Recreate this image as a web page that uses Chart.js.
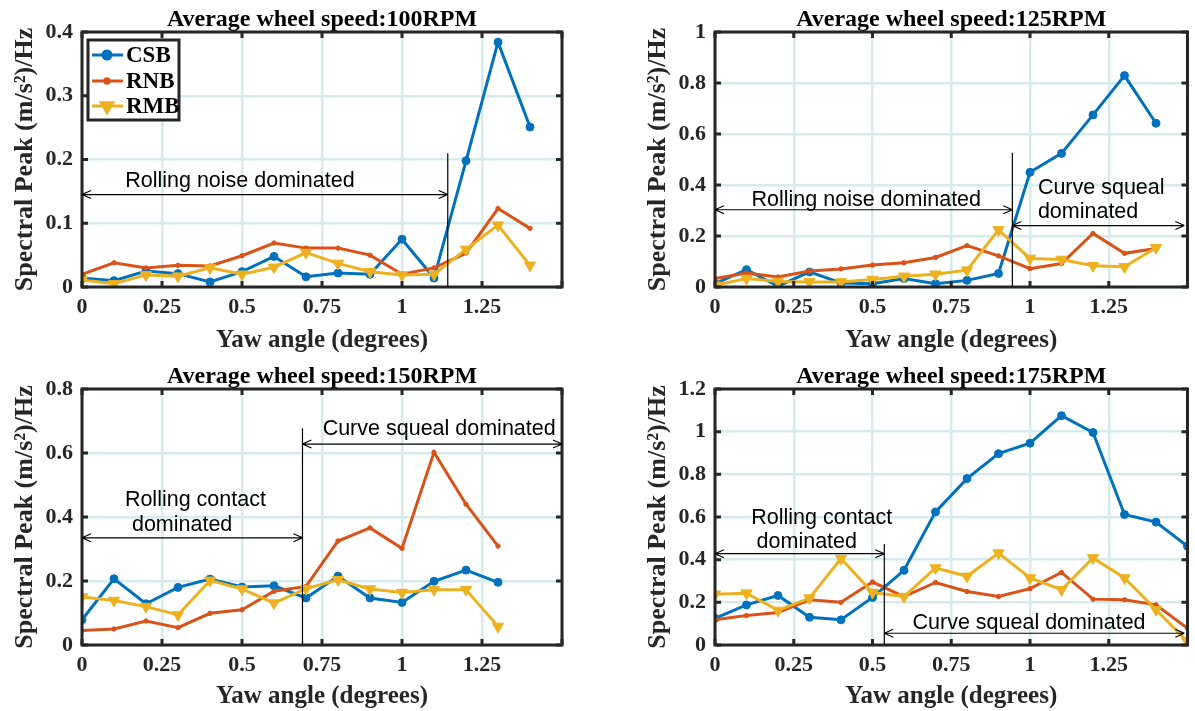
<!DOCTYPE html>
<html>
<head>
<meta charset="utf-8">
<script src="https://cdn.jsdelivr.net/npm/chart.js@4.4.0/dist/chart.umd.min.js"></script>
<style>
  body { margin: 0; background: #fff; }
  #wrap { position: relative; width: 1195px; height: 711px; overflow: hidden; background: #fff; }
  canvas { position: absolute; }
</style>
</head>
<body>
<div id="wrap">
  <canvas id="p100" width="597" height="355" style="left:0;top:0"></canvas>
  <canvas id="p125" width="562" height="355" style="left:633px;top:0"></canvas>
  <canvas id="p150" width="597" height="354" style="left:0;top:357px"></canvas>
  <canvas id="p175" width="562" height="354" style="left:633px;top:357px"></canvas>
</div>
<script>
// yaw angles (degrees)
const yaw14 = [0, 0.1, 0.2, 0.3, 0.4, 0.5, 0.6, 0.7, 0.8, 0.9, 1.0, 1.1, 1.2, 1.3];
const yaw15 = [0, 0.1, 0.2, 0.3, 0.4, 0.5, 0.6, 0.7, 0.8, 0.9, 1.0, 1.1, 1.2, 1.3, 1.4];
const yaw16 = [0, 0.1, 0.2, 0.3, 0.4, 0.5, 0.6, 0.7, 0.8, 0.9, 1.0, 1.1, 1.2, 1.3, 1.4, 1.5];

// 100 RPM
const csb100 = [0.014, 0.010, 0.025, 0.021, 0.008, 0.024, 0.048, 0.016, 0.022, 0.020, 0.075, 0.014, 0.198, 0.384, 0.251];
const rnb100 = [0.020, 0.038, 0.030, 0.034, 0.033, 0.049, 0.069, 0.061, 0.061, 0.050, 0.020, 0.030, 0.053, 0.123, 0.092];
const rmb100 = [0.011, 0.005, 0.019, 0.017, 0.030, 0.020, 0.031, 0.054, 0.037, 0.024, 0.019, 0.020, 0.059, 0.097, 0.034];

// 125 RPM
const csb125 = [0.013, 0.068, 0.003, 0.059, 0.016, 0.013, 0.033, 0.013, 0.026, 0.053, 0.450, 0.524, 0.675, 0.829, 0.642];
const rnb125 = [0.033, 0.055, 0.039, 0.063, 0.071, 0.086, 0.095, 0.116, 0.162, 0.122, 0.072, 0.092, 0.210, 0.132, 0.151];
const rmb125 = [0.007, 0.033, 0.022, 0.020, 0.020, 0.029, 0.042, 0.050, 0.066, 0.224, 0.112, 0.108, 0.083, 0.079, 0.154];

// 150 RPM
const csb150 = [0.079, 0.207, 0.129, 0.180, 0.206, 0.181, 0.185, 0.147, 0.215, 0.147, 0.133, 0.199, 0.234, 0.196];
const rnb150 = [0.045, 0.050, 0.075, 0.054, 0.099, 0.110, 0.168, 0.183, 0.325, 0.366, 0.302, 0.602, 0.440, 0.309];
const rmb150 = [0.150, 0.139, 0.120, 0.094, 0.202, 0.175, 0.131, 0.176, 0.204, 0.175, 0.164, 0.173, 0.173, 0.058];

// 175 RPM
const csb175 = [0.125, 0.188, 0.232, 0.130, 0.118, 0.223, 0.350, 0.624, 0.780, 0.897, 0.946, 1.075, 0.996, 0.612, 0.576, 0.463];
const rnb175 = [0.118, 0.138, 0.152, 0.212, 0.200, 0.295, 0.227, 0.293, 0.251, 0.227, 0.264, 0.340, 0.215, 0.212, 0.188, 0.078];
const rmb175 = [0.238, 0.243, 0.162, 0.220, 0.405, 0.246, 0.227, 0.361, 0.322, 0.431, 0.314, 0.259, 0.408, 0.314, 0.165, 0.016];

const seriesNames = ['CSB', 'RNB', 'RMB'];
const seriesColors = ['#0072BD', '#D95319', '#EDB120'];

const SERIF = 'Liberation Serif, Times New Roman, serif';
const SANS = 'Liberation Sans, Arial, sans-serif';
const INK = '#262626';

// thick box + inward ticks like a matlab axes
const framePlugin = {
  id: 'frame',
  afterDatasetsDraw(chart) {
    const { ctx, chartArea: a, scales: { x, y } } = chart;
    ctx.save();
    ctx.strokeStyle = INK;
    ctx.lineWidth = 3;
    const len = 6;
    ctx.beginPath();
    x.ticks.forEach((t, i) => {
      const px = x.getPixelForTick(i);
      ctx.moveTo(px, a.bottom); ctx.lineTo(px, a.bottom - len);
      ctx.moveTo(px, a.top); ctx.lineTo(px, a.top + len);
    });
    y.ticks.forEach((t, i) => {
      const py = y.getPixelForTick(i);
      ctx.moveTo(a.left, py); ctx.lineTo(a.left + len, py);
      ctx.moveTo(a.right, py); ctx.lineTo(a.right - len, py);
    });
    ctx.stroke();
    ctx.strokeRect(a.left, a.top, a.right - a.left, a.bottom - a.top);
    ctx.restore();
  }
};

function arrowHead(ctx, px, py, dir) {
  ctx.moveTo(px, py);
  ctx.lineTo(px - dir * 9, py - 4);
  ctx.moveTo(px, py);
  ctx.lineTo(px - dir * 9, py + 4);
}

// region marks: vertical divider, double arrows and labels (data coords)
const notesPlugin = {
  id: 'notes',
  afterDatasetsDraw(chart, args, opts) {
    const { ctx, scales: { x, y } } = chart;
    ctx.save();
    ctx.strokeStyle = '#000';
    ctx.fillStyle = '#000';
    ctx.lineWidth = 1.2;
    (opts.items || []).forEach(it => {
      if (it.type === 'vline') {
        ctx.beginPath();
        ctx.moveTo(x.getPixelForValue(it.x), y.getPixelForValue(it.y0));
        ctx.lineTo(x.getPixelForValue(it.x), y.getPixelForValue(it.y1));
        ctx.stroke();
      } else if (it.type === 'arrow') {
        const x0 = x.getPixelForValue(it.x0), x1 = x.getPixelForValue(it.x1);
        const py = y.getPixelForValue(it.y);
        ctx.beginPath();
        ctx.moveTo(x0, py); ctx.lineTo(x1, py);
        arrowHead(ctx, x1, py, 1);
        arrowHead(ctx, x0, py, -1);
        ctx.stroke();
      } else if (it.type === 'text') {
        ctx.font = '21.5px ' + SANS;
        ctx.textAlign = 'left';
        ctx.textBaseline = 'middle';
        ctx.fillText(it.text, x.getPixelForValue(it.x), y.getPixelForValue(it.y));
      }
    });
    ctx.restore();
  }
};

// boxed legend inside the axes (top-left)
const boxLegendPlugin = {
  id: 'boxLegend',
  afterDraw(chart, args, opts) {
    if (!opts.show) return;
    const { ctx, chartArea: a } = chart;
    const bx = a.left + 6, by = a.top + 8, bw = 91, bh = 80;
    ctx.save();
    ctx.fillStyle = '#fff';
    ctx.fillRect(bx, by, bw, bh);
    ctx.strokeStyle = INK;
    ctx.lineWidth = 3;
    ctx.strokeRect(bx, by, bw, bh);
    const rows = [15, 41, 66];
    chart.data.datasets.forEach((ds, i) => {
      const ly = by + rows[i];
      ctx.strokeStyle = ds.borderColor;
      ctx.lineWidth = 3;
      ctx.beginPath();
      ctx.moveTo(bx + 4, ly); ctx.lineTo(bx + 35, ly);
      ctx.stroke();
      ctx.fillStyle = ds.borderColor;
      Chart.helpers.drawPoint(ctx, {
        pointStyle: ds.pointStyle, rotation: ds.rotation || 0,
        radius: ds.pointRadius, borderWidth: 1
      }, bx + 19, ly);
      ctx.fill();
      ctx.fillStyle = '#000';
      ctx.font = 'bold 23px ' + SERIF;
      ctx.textAlign = 'left';
      ctx.textBaseline = 'middle';
      ctx.fillText(ds.label, bx + 38, ly + 1);
    });
    ctx.restore();
  }
};

Chart.register(framePlugin, notesPlugin, boxLegendPlugin);

function pts(xs, ys) {
  return ys.map((v, i) => ({ x: xs[i], y: v }));
}

function fmt(v) {
  return String(+Number(v).toFixed(2));
}

function makePanel(id, cfg) {
  const ds = [cfg.csb, cfg.rnb, cfg.rmb].map((vals, i) => ({
    label: seriesNames[i],
    data: pts(cfg.yaw, vals),
    borderColor: seriesColors[i],
    backgroundColor: seriesColors[i],
    pointBackgroundColor: seriesColors[i],
    pointBorderColor: seriesColors[i],
    borderWidth: 3,
    tension: 0,
    pointStyle: i === 2 ? 'triangle' : 'circle',
    rotation: i === 2 ? 180 : 0,
    pointRadius: [4, 2.2, 6.5][i],
    pointBorderWidth: 1,
    order: 2 - i
  }));

  new Chart(document.getElementById(id), {
    type: 'line',
    data: { datasets: ds },
    options: {
      responsive: false,
      animation: false,
      events: [],
      layout: { padding: { left: 0, right: cfg.padRight, top: 0, bottom: 0 } },
      scales: {
        x: {
          type: 'linear',
          min: 0, max: 1.5,
          afterFit(s) { s.height = cfg.xAxisH; },
          border: { display: false },
          grid: { color: '#d6ebeb', lineWidth: 2.5, drawTicks: false },
          ticks: {
            stepSize: 0.25,
            padding: 7,
            maxRotation: 0,
            color: INK,
            font: { family: SERIF, size: 22, weight: 'bold' },
            callback: v => (v > 1.4 ? '' : fmt(v))
          },
          title: {
            display: true,
            text: 'Yaw angle (degrees)',
            color: INK,
            font: { family: SERIF, size: 25, weight: 'bold', lineHeight: 1 },
            padding: { top: 0, bottom: 2 }
          }
        },
        y: {
          min: 0, max: cfg.yMax,
          afterFit(s) { s.width = 82; },
          border: { display: false },
          grid: { color: '#d6ebeb', lineWidth: 2.5, drawTicks: false },
          ticks: {
            stepSize: cfg.yStep,
            padding: 9,
            color: INK,
            font: { family: SERIF, size: 22, weight: 'bold' },
            callback: v => fmt(v)
          },
          title: {
            display: true,
            text: 'Spectral Peak (m/s²)/Hz',
            color: INK,
            font: { family: SERIF, size: 26, weight: 'bold', lineHeight: 1 },
            padding: { top: 12, bottom: 0 }
          }
        }
      },
      plugins: {
        legend: { display: false },
        tooltip: { enabled: false },
        title: {
          display: true,
          fullSize: false,
          text: cfg.title,
          color: '#000',
          font: { family: SERIF, size: 24, weight: 'bold', lineHeight: 1 },
          padding: { top: 8, bottom: 0 }
        },
        notes: { items: cfg.notes },
        boxLegend: { show: !!cfg.legend }
      }
    }
  });
}

makePanel('p100', {
  title: 'Average wheel speed:100RPM',
  yaw: yaw15, csb: csb100, rnb: rnb100, rmb: rmb100,
  yMax: 0.4, yStep: 0.1, padRight: 35, xAxisH: 68, legend: true,
  notes: [
    { type: 'vline', x: 1.143, y0: 0, y1: 0.21 },
    { type: 'arrow', x0: 0, x1: 1.143, y: 0.145 },
    { type: 'text', text: 'Rolling noise dominated', x: 0.135, y: 0.166 }
  ]
});

makePanel('p125', {
  title: 'Average wheel speed:125RPM',
  yaw: yaw15, csb: csb125, rnb: rnb125, rmb: rmb125,
  yMax: 1, yStep: 0.2, padRight: 0, xAxisH: 68,
  notes: [
    { type: 'vline', x: 0.944, y0: 0, y1: 0.526 },
    { type: 'arrow', x0: 0, x1: 0.944, y: 0.303 },
    { type: 'arrow', x0: 0.944, x1: 1.49, y: 0.241 },
    { type: 'text', text: 'Rolling noise dominated', x: 0.116, y: 0.342 },
    { type: 'text', text: 'Curve squeal', x: 1.025, y: 0.388 },
    { type: 'text', text: 'dominated', x: 1.025, y: 0.292 }
  ]
});

makePanel('p150', {
  title: 'Average wheel speed:150RPM',
  yaw: yaw14, csb: csb150, rnb: rnb150, rmb: rmb150,
  yMax: 0.8, yStep: 0.2, padRight: 35, xAxisH: 66,
  notes: [
    { type: 'vline', x: 0.689, y0: 0, y1: 0.677 },
    { type: 'arrow', x0: 0, x1: 0.689, y: 0.335 },
    { type: 'arrow', x0: 0.689, x1: 1.5, y: 0.628 },
    { type: 'text', text: 'Rolling contact', x: 0.134, y: 0.452 },
    { type: 'text', text: 'dominated', x: 0.156, y: 0.374 },
    { type: 'text', text: 'Curve squeal dominated', x: 0.752, y: 0.675 }
  ]
});

makePanel('p175', {
  title: 'Average wheel speed:175RPM',
  yaw: yaw16, csb: csb175, rnb: rnb175, rmb: rmb175,
  yMax: 1.2, yStep: 0.2, padRight: 0, xAxisH: 66,
  notes: [
    { type: 'vline', x: 0.5375, y0: 0, y1: 0.474 },
    { type: 'arrow', x0: 0, x1: 0.5375, y: 0.428 },
    { type: 'arrow', x0: 0.5375, x1: 1.49, y: 0.055 },
    { type: 'text', text: 'Rolling contact', x: 0.115, y: 0.596 },
    { type: 'text', text: 'dominated', x: 0.132, y: 0.482 },
    { type: 'text', text: 'Curve squeal dominated', x: 0.627, y: 0.102 }
  ]
});
</script>
</body>
</html>
